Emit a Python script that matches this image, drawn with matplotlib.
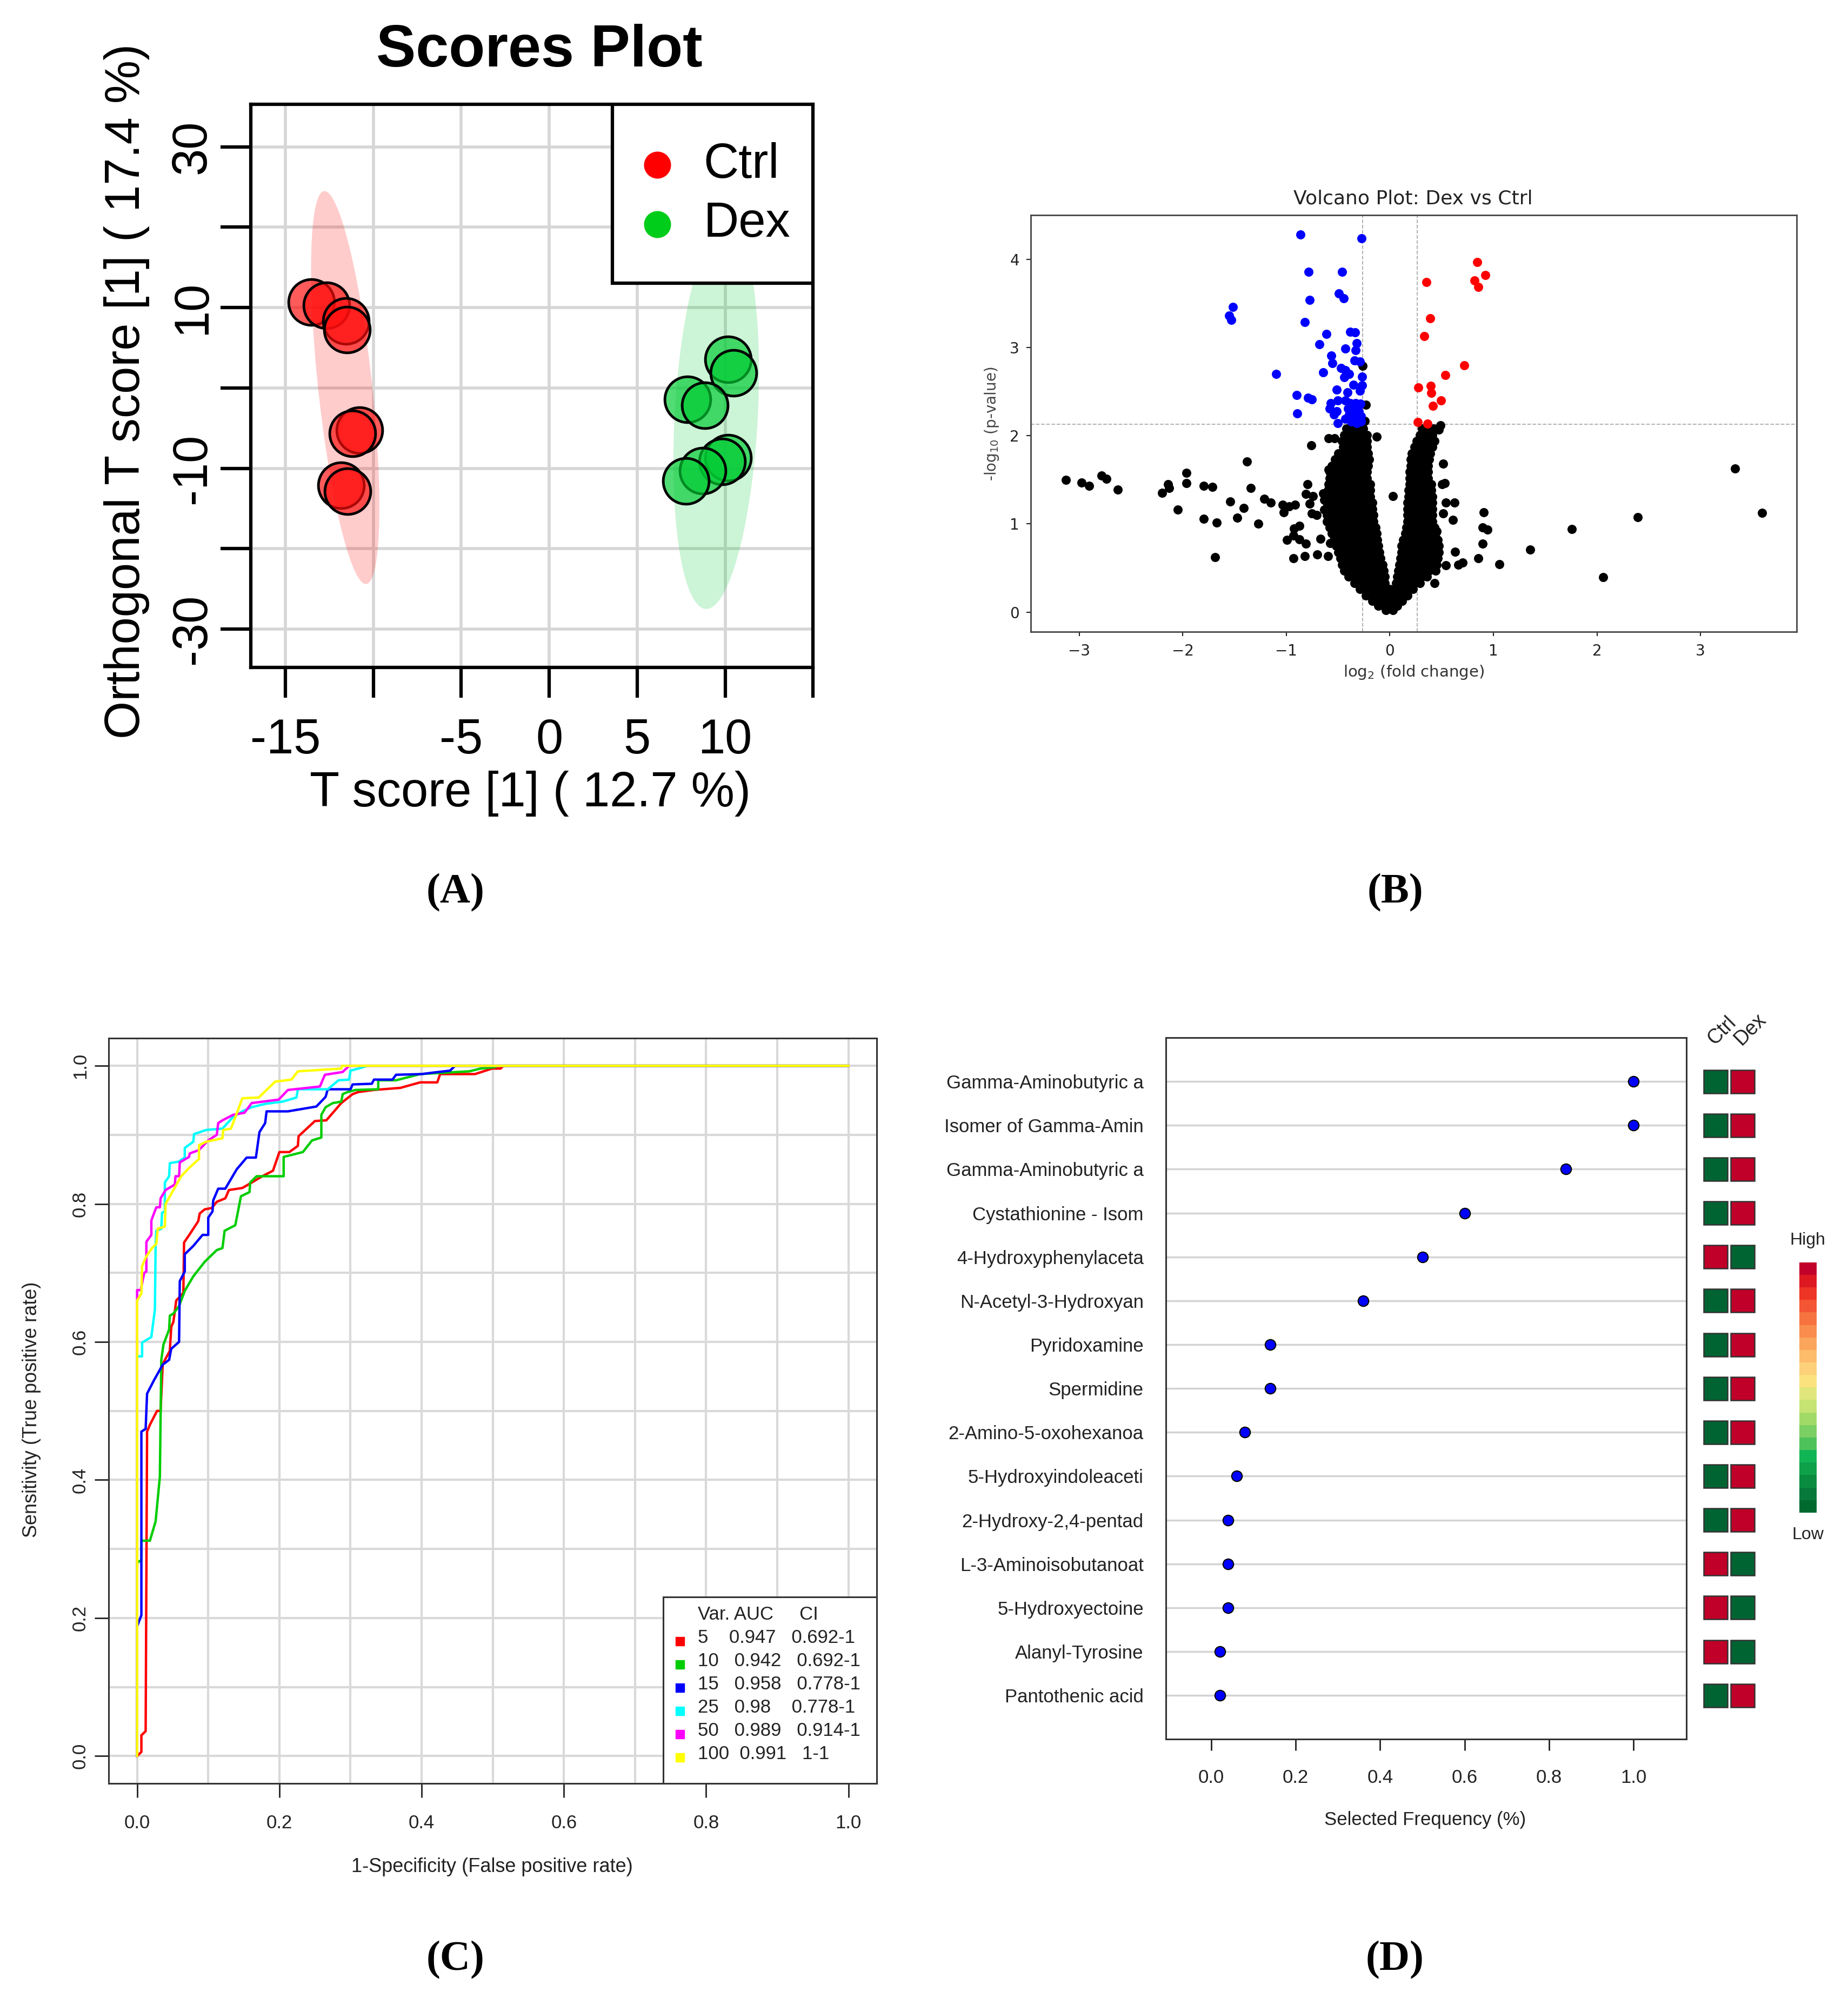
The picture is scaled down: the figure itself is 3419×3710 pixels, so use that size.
import numpy as np
import matplotlib
matplotlib.use("Agg")
import matplotlib.pyplot as plt
from matplotlib.patches import Rectangle, Polygon
from matplotlib.colors import ListedColormap

plt.rcParams['font.family'] = ['Liberation Sans', 'DejaVu Sans']

# ---------------- (A) scores plot data ----------------
ctrl_t = [-13.54, -12.68, -11.57, -11.51, -10.78, -11.19, -11.83, -11.48]
ctrl_o = [10.7, 10.3, 8.3, 7.25, -5.27, -5.64, -12.1, -12.86]
dex_t = [10.16, 10.48, 7.87, 8.83, 10.16, 9.84, 8.73, 7.78]
dex_o = [3.56, 1.87, -1.44, -2.18, -8.66, -9.17, -10.28, -11.6]
# confidence ellipse: centre x, centre y, end of major half axis x, y, minor half width (px)
ell_ctrl = [-11.6, 0.05, -10.4, -24.4, 50]
ell_dex = [9.49, -3.55, 8.9, -27.5, 77]
xt_A = [-15, -10, -5, 0, 5, 10, 15]
xt_A_lab = ['-15', '', '-5', '0', '5', '10', '']
yt_A = [-30, -20, -10, 0, 10, 20, 30]
yt_A_lab = ['-30', '', '-10', '', '10', '', '30']

# ---------------- (B) volcano data ----------------
blue_fc = [-0.863, -0.275, -0.783, -0.462, -0.777, -0.492, -0.448, -1.516, -1.552, -1.532,
           -0.823, -0.612, -0.382, -0.335, -0.683, -0.321, -0.432, -0.331, -0.566, -0.558,
           -0.341, -0.291, -0.472, -0.432, -0.392, -0.442, -0.271, -1.10, -0.647, -0.351,
           -0.271, -0.512, -0.412, -0.291, -0.898, -0.793, -0.753, -0.572, -0.502, -0.432,
           -0.382, -0.331, -0.287, -0.582, -0.512, -0.402, -0.351, -0.301, -0.894, -0.542,
           -0.392, -0.331, -0.281, -0.502, -0.371, -0.321, -0.281, -0.432, -0.351]
blue_p = [4.28, 4.236, 3.86, 3.86, 3.54, 3.61, 3.556, 3.46, 3.36, 3.31,
          3.287, 3.15, 3.18, 3.17, 3.036, 3.05, 2.985, 2.967, 2.91, 2.82,
          2.85, 2.84, 2.77, 2.74, 2.70, 2.66, 2.67, 2.70, 2.72, 2.58,
          2.57, 2.52, 2.49, 2.51, 2.46, 2.43, 2.41, 2.37, 2.40, 2.40,
          2.37, 2.37, 2.36, 2.31, 2.28, 2.31, 2.30, 2.28, 2.25, 2.24,
          2.24, 2.22, 2.22, 2.145, 2.16, 2.145, 2.16, 2.19, 2.19]
red_fc = [0.843, 0.924, 0.817, 0.853, 0.351, 0.388, 0.331, 0.717, 0.536, 0.275,
          0.396, 0.402, 0.496, 0.416, 0.271, 0.361]
red_p = [3.97, 3.82, 3.76, 3.686, 3.74, 3.33, 3.127, 2.795, 2.686, 2.544,
         2.562, 2.486, 2.40, 2.34, 2.154, 2.136]
bk_fc = [-3.127, -2.978, -2.906, -2.784, -2.74, -2.63, -2.198, -2.143, -2.132, -1.966,
         -1.966, -2.049, -1.80, -1.717, -1.80, -1.673, -1.69, -1.38, -1.345, -1.54,
         -1.41, -1.476, -1.27, -1.215, -1.149, -1.034, -0.974, -0.914, -1.024, -0.759,
         -0.592, -0.536, -0.797, -0.813, -0.743, -0.773, -0.753, -0.709, -0.924, -0.873,
         -0.934, -0.994, -0.873, -0.813, -0.669, -0.578, -0.93, -0.823, -0.70, -0.596,
         -0.592, -0.492, -0.643, -0.633, -0.633, -0.261, -0.231, -0.241, -0.13, 0.03,
         0.488, 0.472, 0.512, 0.502, 0.532, 0.542, 0.622, 0.516, 0.608, 0.904,
         0.894, 0.944, 0.898, 0.629, 0.853, 0.663, 0.703, 1.058, 1.355, 0.542,
         0.432, 0.452, 3.333, 3.593, 2.393, 1.757, 2.061]
bk_p = [1.497, 1.47, 1.43, 1.548, 1.509, 1.39, 1.352, 1.45, 1.41, 1.58,
        1.46, 1.163, 1.43, 1.42, 1.057, 1.018, 0.625, 1.71, 1.405, 1.254,
        1.18, 1.07, 1.003, 1.284, 1.239, 1.217, 1.20, 1.217, 1.133, 1.894,
        1.97, 1.97, 1.45, 1.338, 1.314, 1.23, 1.118, 1.10, 0.95, 0.98,
        0.867, 0.82, 0.823, 0.776, 0.83, 0.785, 0.61, 0.634, 0.656, 0.634,
        1.616, 1.63, 1.344, 1.27, 1.163, 2.79, 2.35, 2.166, 1.99, 1.314,
        2.12, 2.07, 1.683, 1.45, 1.46, 1.239, 1.239, 1.118, 1.048, 1.133,
        0.958, 0.937, 0.776, 0.686, 0.61, 0.535, 0.559, 0.544, 0.71, 0.529,
        0.332, 0.92, 1.627, 1.128, 1.077, 0.939, 0.397]
# the dense V of non-significant features, read row by row (p, fold changes)
dense_rows = [
    (2.08, [-0.42, -0.36, -0.30, -0.26, 0.31, 0.37, 0.42]),
    (2.01, [-0.44, -0.38, -0.32, -0.26, -0.22, 0.29, 0.35, 0.41]),
    (1.94, [-0.46, -0.40, -0.34, -0.28, -0.22, 0.26, 0.32, 0.38, 0.43]),
    (1.87, [-0.45, -0.39, -0.33, -0.27, -0.22, 0.24, 0.30, 0.36, 0.41]),
    (1.80, [-0.50, -0.44, -0.38, -0.32, -0.26, -0.21, 0.21, 0.27, 0.33, 0.39]),
    (1.73, [-0.53, -0.47, -0.41, -0.35, -0.29, -0.23, -0.20, 0.20, 0.26, 0.32, 0.38]),
    (1.66, [-0.56, -0.50, -0.44, -0.38, -0.32, -0.26, -0.21, 0.20, 0.26, 0.31, 0.37]),
    (1.59, [-0.58, -0.52, -0.46, -0.40, -0.34, -0.28, -0.22, 0.19, 0.25, 0.31, 0.37]),
    (1.52, [-0.58, -0.52, -0.46, -0.40, -0.34, -0.28, -0.22, 0.19, 0.25, 0.31, 0.37]),
    (1.45, [-0.59, -0.53, -0.47, -0.41, -0.35, -0.29, -0.23, -0.19, 0.19, 0.24, 0.30, 0.36, 0.40]),
    (1.38, [-0.60, -0.54, -0.48, -0.42, -0.36, -0.30, -0.24, -0.19, 0.18, 0.24, 0.30, 0.36, 0.40]),
    (1.31, [-0.61, -0.55, -0.49, -0.43, -0.37, -0.31, -0.25, -0.19, 0.18, 0.24, 0.30, 0.36, 0.41]),
    (1.24, [-0.61, -0.55, -0.49, -0.43, -0.37, -0.31, -0.25, -0.19, -0.17, 0.17, 0.23, 0.29, 0.35, 0.41]),
    (1.17, [-0.62, -0.56, -0.50, -0.44, -0.38, -0.32, -0.26, -0.21, -0.17, 0.17, 0.23, 0.29, 0.35, 0.41]),
    (1.10, [-0.61, -0.55, -0.49, -0.43, -0.37, -0.31, -0.25, -0.20, -0.16, 0.17, 0.23, 0.29, 0.35, 0.41]),
    (1.03, [-0.61, -0.55, -0.49, -0.43, -0.37, -0.31, -0.25, -0.20, -0.16, 0.17, 0.23, 0.29, 0.35, 0.41]),
    (0.96, [-0.58, -0.52, -0.46, -0.40, -0.34, -0.28, -0.22, -0.17, -0.14, 0.16, 0.22, 0.28, 0.34, 0.40, 0.43]),
    (0.89, [-0.56, -0.50, -0.44, -0.38, -0.32, -0.26, -0.20, -0.15, -0.13, 0.15, 0.21, 0.27, 0.33, 0.39, 0.44]),
    (0.82, [-0.54, -0.48, -0.42, -0.36, -0.30, -0.24, -0.18, -0.12, 0.13, 0.19, 0.25, 0.31, 0.37, 0.43, 0.46]),
    (0.75, [-0.52, -0.46, -0.40, -0.34, -0.28, -0.22, -0.16, -0.11, 0.11, 0.17, 0.23, 0.29, 0.35, 0.41, 0.47]),
    (0.68, [-0.50, -0.44, -0.38, -0.32, -0.26, -0.20, -0.14, -0.10, 0.11, 0.17, 0.23, 0.29, 0.35, 0.41, 0.47]),
    (0.61, [-0.48, -0.42, -0.36, -0.30, -0.24, -0.18, -0.13, -0.09, 0.10, 0.16, 0.22, 0.28, 0.34, 0.40, 0.46]),
    (0.54, [-0.46, -0.40, -0.34, -0.28, -0.22, -0.16, -0.11, -0.07, 0.09, 0.15, 0.21, 0.27, 0.33, 0.39, 0.45]),
    (0.47, [-0.44, -0.38, -0.32, -0.26, -0.20, -0.14, -0.09, -0.06, 0.08, 0.14, 0.20, 0.26, 0.32, 0.38, 0.44]),
    (0.40, [-0.40, -0.34, -0.28, -0.22, -0.16, -0.10, -0.05, 0.07, 0.13, 0.19, 0.25, 0.31, 0.36]),
    (0.33, [-0.34, -0.28, -0.22, -0.16, -0.10, -0.05, 0.06, 0.12, 0.18, 0.24, 0.29]),
    (0.26, [-0.29, -0.23, -0.17, -0.11, -0.05, 0.00, 0.05, 0.11, 0.17, 0.22]),
    (0.19, [-0.23, -0.17, -0.11, -0.05, 0.01, 0.07, 0.13, 0.17]),
    (0.13, [-0.17, -0.11, -0.05, 0.01, 0.07, 0.12]),
    (0.07, [-0.11, -0.05, 0.01, 0.07]),
    (0.02, [-0.04, 0.03]),
]
fc_cut = 0.263
p_cut = 2.13

# ---------------- (C) ROC curves ----------------
roc_vars = ['5', '10', '15', '25', '50', '100']
roc_auc = ['0.947', '0.942', '0.958', '0.98', '0.989', '0.991']
roc_ci = ['0.692-1', '0.692-1', '0.778-1', '0.778-1', '0.914-1', '1-1']
roc_cols = ['#ff0000', '#00cd00', '#0000ff', '#00ffff', '#ff00ff', '#ffff00']
fpr_5 = [0, .006, .006, .012, .014, .018, .028, .033, .036, .046, .048, .051, .055, .065, .066,
         .074, .086, .088, .095, .105, .112, .124, .129, .148, .158, .176, .191, .200, .214, .226,
         .227, .250, .266, .287, .303, .311, .333, .370, .398, .422, .426, .475, .499, .511, .515, 1.0]
tpr_5 = [0, .006, .030, .036, .470, .480, .500, .500, .568, .587, .622, .629, .660, .671, .744,
         .756, .775, .786, .792, .794, .803, .808, .820, .823, .829, .840, .848, .875, .875, .884,
         .898, .920, .921, .946, .959, .962, .965, .968, .976, .976, .988, .988, .996, .996, 1.0, 1.0]
fpr_10 = [0, 0, .006, .006, .018, .026, .032, .034, .037, .045, .046, .051, .059, .067, .079,
          .095, .112, .120, .123, .138, .146, .158, .159, .168, .206, .206, .233, .246, .259, .259,
          .265, .275, .287, .289, .296, .307, .339, .339, .364, .398, .467, .483, .503, .507, 1.0]
tpr_10 = [0, .280, .284, .312, .312, .340, .405, .574, .596, .618, .638, .641, .652, .674, .695,
          .716, .733, .736, .761, .769, .811, .817, .831, .840, .840, .868, .875, .892, .896, .929,
          .940, .946, .948, .959, .962, .965, .966, .979, .979, .988, .992, .996, .998, 1.0, 1.0]
fpr_15 = [0, 0, .006, .006, .012, .014, .024, .036, .045, .048, .059, .060, .067, .067, .079,
          .092, .100, .100, .106, .107, .114, .124, .140, .154, .167, .172, .180, .182, .212, .252,
          .265, .268, .300, .303, .330, .333, .359, .364, .400, .415, .440, .447, 1.0]
tpr_15 = [0, .188, .204, .470, .474, .525, .545, .567, .574, .590, .600, .688, .702, .727, .739,
          .755, .755, .780, .789, .805, .822, .822, .850, .867, .867, .904, .917, .934, .934, .941,
          .955, .966, .966, .973, .974, .980, .980, .987, .988, .990, .993, 1.0, 1.0]
fpr_25 = [0, 0, .007, .007, .020, .025, .026, .027, .034, .035, .039, .039, .045, .046, .058,
          .067, .067, .079, .080, .097, .120, .135, .148, .161, .181, .204, .224, .226, .268, .283,
          .298, .300, .311, .324, 1.0]
tpr_25 = [0, .579, .579, .599, .607, .647, .739, .761, .764, .787, .789, .831, .840, .859, .861,
          .867, .881, .890, .901, .907, .909, .926, .934, .940, .945, .948, .954, .966, .966, .979,
          .980, .993, .996, 1.0, 1.0]
fpr_50 = [0, 0, 0, .005, .010, .013, .013, .020, .020, .027, .032, .033, .040, .053, .054,
          .059, .060, .073, .074, .087, .100, .112, .114, .120, .135, .151, .161, .199, .212, .257,
          .264, .289, .296, .298, 1.0]
tpr_50 = [0, .660, .675, .675, .700, .702, .745, .755, .776, .795, .795, .808, .820, .828, .840,
          .840, .860, .868, .873, .878, .892, .900, .917, .921, .929, .932, .946, .951, .965, .970,
          .987, .991, .998, 1.0, 1.0]
fpr_100 = [0, 0, .006, .007, .013, .021, .027, .029, .039, .040, .051, .062, .072, .087, .087,
           .097, .120, .121, .132, .148, .171, .194, .217, .226, .287, .288, 1.0]
tpr_100 = [0, .660, .670, .710, .724, .736, .742, .764, .767, .800, .820, .840, .851, .865, .885,
           .890, .895, .907, .909, .953, .954, .977, .980, .992, .996, 1.0, 1.0]
roc_fpr = [fpr_5, fpr_10, fpr_15, fpr_25, fpr_50, fpr_100]
roc_tpr = [tpr_5, tpr_10, tpr_15, tpr_25, tpr_50, tpr_100]

# ---------------- (D) selected frequency ----------------
feat_names = ['Gamma-Aminobutyric a', 'Isomer of Gamma-Amin', 'Gamma-Aminobutyric a',
              'Cystathionine - Isom', '4-Hydroxyphenylaceta', 'N-Acetyl-3-Hydroxyan',
              'Pyridoxamine', 'Spermidine', '2-Amino-5-oxohexanoa', '5-Hydroxyindoleaceti',
              '2-Hydroxy-2,4-pentad', 'L-3-Aminoisobutanoat', '5-Hydroxyectoine',
              'Alanyl-Tyrosine', 'Pantothenic acid']
sel_freq = [1.0, 1.0, 0.84, 0.60, 0.50, 0.36, 0.14, 0.14, 0.08, 0.06, 0.04, 0.04, 0.04, 0.02, 0.02]
ctrl_high = [0, 0, 0, 0, 1, 0, 0, 0, 0, 0, 0, 1, 1, 1, 0]
dex_high = [1, 1, 1, 1, 0, 1, 1, 1, 1, 1, 1, 0, 0, 0, 1]
groups_D = ['Ctrl', 'Dex']
heat_cols = ['#006a2e', '#08793a', '#0a8c40', '#0fa04a', '#12b554', '#4ec25a', '#7ccf62',
             '#a2da68', '#c5e474', '#e0e67c', '#fbe27e', '#fdd07a', '#fcbc6c', '#faa55c',
             '#f88d4e', '#f67340', '#f45534', '#ee3424', '#de1820', '#c2022a']
low_col = '#006432'
high_col = '#c00028'

fig = plt.figure(figsize=(34.19, 37.10), dpi=100)

# ======================= (A) =======================
axA = fig.add_axes([0.1357, 0.667, 0.3043, 0.281])
axA.set_xlim(-16.97, 14.97)
axA.set_ylim(-34.8, 35.3)
for v in xt_A:
    axA.axvline(v, color='#d6d6d6', lw=4, zorder=0)
for v in yt_A:
    axA.axhline(v, color='#d6d6d6', lw=4, zorder=0)


def ellipse_pts(ax, e):
    cx, cy, ex, ey, w = e
    T = ax.transData
    c = T.transform((cx, cy))
    m = T.transform((ex, ey)) - c
    n = np.array([-m[1], m[0]])
    n = n / np.hypot(n[0], n[1]) * w
    t = np.linspace(0, 2 * np.pi, 240)
    pix = c + np.outer(np.cos(t), m) + np.outer(np.sin(t), n)
    return T.inverted().transform(pix)


axA.add_patch(Polygon(ellipse_pts(axA, ell_ctrl), closed=True, facecolor=(1, 0, 0, 0.2),
                      edgecolor='none', zorder=1))
axA.add_patch(Polygon(ellipse_pts(axA, ell_dex), closed=True, facecolor=(0, 0.8, 0.2, 0.2),
                      edgecolor='none', zorder=1))
axA.scatter(ctrl_t, ctrl_o, s=61 ** 2, facecolor=(1, 0.05, 0.05, 0.68), edgecolor='black',
            linewidth=3.5, zorder=3)
axA.scatter(dex_t, dex_o, s=61 ** 2, facecolor=(0.0, 0.8, 0.2, 0.68), edgecolor='black',
            linewidth=3.5, zorder=3)
axA.set_xticks(xt_A)
axA.set_xticklabels(xt_A_lab)
axA.set_yticks(yt_A)
axA.set_yticklabels(yt_A_lab, rotation=90, va='center')
axA.tick_params(direction='out', length=40, width=4.5, labelsize=65)
axA.tick_params(axis='x', pad=27)
axA.tick_params(axis='y', pad=7)
for s in axA.spines.values():
    s.set_linewidth(4.5)
# legend box
axA.add_patch(Rectangle((0.643, 0.682), 0.357, 0.318, transform=axA.transAxes,
                        facecolor='white', edgecolor='black', lw=4.5, zorder=5))
for yy, lab, col in [(0.8924, 'Ctrl', '#ff0000'), (0.787, 'Dex', '#00cc1a')]:
    axA.plot([0.723], [yy], 'o', ms=35, color=col, transform=axA.transAxes, zorder=6)
    axA.text(0.805, yy, lab, transform=axA.transAxes, fontsize=65, va='center', ha='left',
             zorder=6)
fig.text(0.292, 0.9745, 'Scores Plot', fontsize=79, fontweight='bold', ha='center', va='center')
fig.text(0.287, 0.6043, 'T score [1] ( 12.7 %)', fontsize=65, ha='center', va='center')
fig.text(0.0687, 0.805, 'Orthogonal T score [1] ( 17.4 %)', fontsize=65, ha='center',
         va='center', rotation=90)

# ======================= (B) =======================
axB = fig.add_axes([0.5577, 0.685, 0.4146, 0.2077])
axB.set_xlim(-3.47, 3.93)
axB.set_ylim(-0.22, 4.5)
dense_fc = [f for p, row in dense_rows for f in row]
dense_p = [p for p, row in dense_rows for f in row]
axB.axvline(-fc_cut, color='#aaaaaa', ls='--', lw=1.3, zorder=1)
axB.axvline(fc_cut, color='#aaaaaa', ls='--', lw=1.3, zorder=1)
axB.axhline(p_cut, color='#aaaaaa', ls='--', lw=1.3, zorder=1)
axB.scatter(dense_fc, dense_p, s=150, c='black', lw=0, zorder=2)
axB.scatter(bk_fc, bk_p, s=150, c='black', lw=0, zorder=2)
axB.scatter(blue_fc, blue_p, s=150, c='#0000ff', lw=0, zorder=3)
axB.scatter(red_fc, red_p, s=150, c='#ff0000', lw=0, zorder=3)
axB.set_xticks([-3, -2, -1, 0, 1, 2, 3])
axB.set_yticks([0, 1, 2, 3, 4])
for lab in axB.get_xticklabels() + axB.get_yticklabels():
    lab.set_fontfamily('DejaVu Sans')
axB.tick_params(direction='out', length=6, width=1.5, labelsize=20, colors='#222222')
axB.tick_params(axis='x', pad=10)
axB.tick_params(axis='y', pad=9)
for s in axB.spines.values():
    s.set_linewidth(2)
    s.set_color('#444444')
fig.text(0.7647, 0.901, 'Volcano Plot: Dex vs Ctrl', fontsize=26, family='DejaVu Sans',
         ha='center', va='center', color='#222222')
fig.text(0.765, 0.6647, r'log$_2$ (fold change)', fontsize=21, family='DejaVu Sans',
         ha='center', va='center', color='#333333')
fig.text(0.5366, 0.7887, r'-log$_{10}$ (p-value)', fontsize=20, family='DejaVu Sans',
         ha='center', va='center', rotation=90, color='#444444')

# ======================= (C) =======================
axC = fig.add_axes([0.0588, 0.1104, 0.4157, 0.3718])
axC.set_xlim(-0.04, 1.04)
axC.set_ylim(-0.04, 1.04)
gridv = np.arange(0, 11) / 10
for v in gridv:
    axC.axvline(v, color='#d9d9d9', lw=3, zorder=0)
    axC.axhline(v, color='#d9d9d9', lw=3, zorder=0)
for f, t, c in zip(roc_fpr, roc_tpr, roc_cols):
    axC.plot(f, t, color=c, lw=3.2, zorder=2)
axC.set_xticks([0, 0.2, 0.4, 0.6, 0.8, 1.0])
axC.set_xticklabels(['0.0', '0.2', '0.4', '0.6', '0.8', '1.0'])
axC.set_yticks([0, 0.2, 0.4, 0.6, 0.8, 1.0])
axC.set_yticklabels(['0.0', '0.2', '0.4', '0.6', '0.8', '1.0'], rotation=90, va='center')
axC.tick_params(direction='out', length=19, width=2, labelsize=25, colors='#222222')
axC.tick_params(axis='x', pad=22)
axC.tick_params(axis='y', pad=7)
for s in axC.spines.values():
    s.set_linewidth(2.2)
    s.set_color('#333333')
axC.add_patch(Rectangle((0.722, 0), 0.278, 0.2504, transform=axC.transAxes,
                        facecolor='white', edgecolor='#333333', lw=2.2, zorder=5))
axC.text(0.767, 0.2268, 'Var. AUC     CI', transform=axC.transAxes, fontsize=25,
         va='center', ha='left', zorder=6, color='#222222')
for i in range(len(roc_vars)):
    sp_a = ' ' * (5 - len(roc_vars[i]))
    sp_b = ' ' * (3 + (5 - len(roc_auc[i])))
    yy = 0.1958 - i * 0.0312
    axC.plot([0.744], [yy - 0.005], 's', ms=11, color=roc_cols[i], transform=axC.transAxes,
             zorder=6)
    axC.text(0.767, yy, roc_vars[i] + sp_a + roc_auc[i] + sp_b + roc_ci[i],
             transform=axC.transAxes, fontsize=25, va='center', ha='left', zorder=6,
             color='#222222')
fig.text(0.2662, 0.069, '1-Specificity (False positive rate)', fontsize=26, ha='center',
         va='center', color='#222222')
fig.text(0.017, 0.297, 'Sensitivity (True positive rate)', fontsize=26, ha='center',
         va='center', rotation=90, color='#222222')

# ======================= (D) =======================
axD = fig.add_axes([0.631, 0.1325, 0.2815, 0.350])
axD.set_xlim(-0.107, 1.125)
axD.set_ylim(0, 16)
ypos = np.arange(len(feat_names), 0, -1)
for yy in ypos:
    axD.axhline(yy, color='#d3d3d3', lw=2.5, zorder=1)
axD.scatter(sel_freq, ypos, s=14 ** 2, facecolor='#0000ff', edgecolor='black', lw=1.5,
            zorder=3)
axD.set_yticks(ypos)
axD.set_yticklabels(feat_names)
axD.set_xticks([0, 0.2, 0.4, 0.6, 0.8, 1.0])
axD.set_xticklabels(['0.0', '0.2', '0.4', '0.6', '0.8', '1.0'])
axD.tick_params(axis='x', direction='out', length=15, width=2, labelsize=25, pad=24,
                colors='#222222')
axD.tick_params(axis='y', length=0, labelsize=25, pad=30, colors='#222222')
for s in axD.spines.values():
    s.set_linewidth(2.2)
    s.set_color('#333333')
fig.text(0.7712, 0.0922, 'Selected Frequency (%)', fontsize=25, ha='center', va='center',
         color='#222222')

# heat boxes beside the dot chart
axH = fig.add_axes([0.9213, 0.1325, 0.0293, 0.350])
axH.set_xlim(0, 2)
axH.set_ylim(0, 16)
axH.axis('off')
for i, yy in enumerate(ypos):
    for j, lvl in enumerate([ctrl_high[i], dex_high[i]]):
        axH.add_patch(Rectangle((j + 0.04, yy - 0.265), 0.88, 0.53,
                                facecolor=high_col if lvl else low_col,
                                edgecolor='#333333', lw=1.8))
for j, g in enumerate(groups_D):
    axH.text(j + 0.55, 15.75, g, rotation=45, rotation_mode='anchor', ha='left',
             va='bottom', fontsize=27, color='#222222')

# colour key
axK = fig.add_axes([0.9737, 0.2456, 0.0094, 0.1248])
axK.pcolormesh(np.arange(2), np.arange(len(heat_cols) + 1),
               np.arange(len(heat_cols)).reshape(-1, 1),
               cmap=ListedColormap(heat_cols), shading='flat')
axK.axis('off')
fig.text(0.9783, 0.3815, 'High', fontsize=23, ha='center', va='center', color='#222222')
fig.text(0.9783, 0.2345, 'Low', fontsize=23, ha='center', va='center', color='#222222')

# ---- panel letters
for x, y, s in [(0.2465, 0.5547, '(A)'), (0.7549, 0.5547, '(B)'),
                (0.2465, 0.0224, '(C)'), (0.7549, 0.0224, '(D)')]:
    fig.text(x, y, s, fontsize=56, fontweight='bold', family='Liberation Serif',
             ha='center', va='center')

fig.savefig('out.png', dpi=100)
